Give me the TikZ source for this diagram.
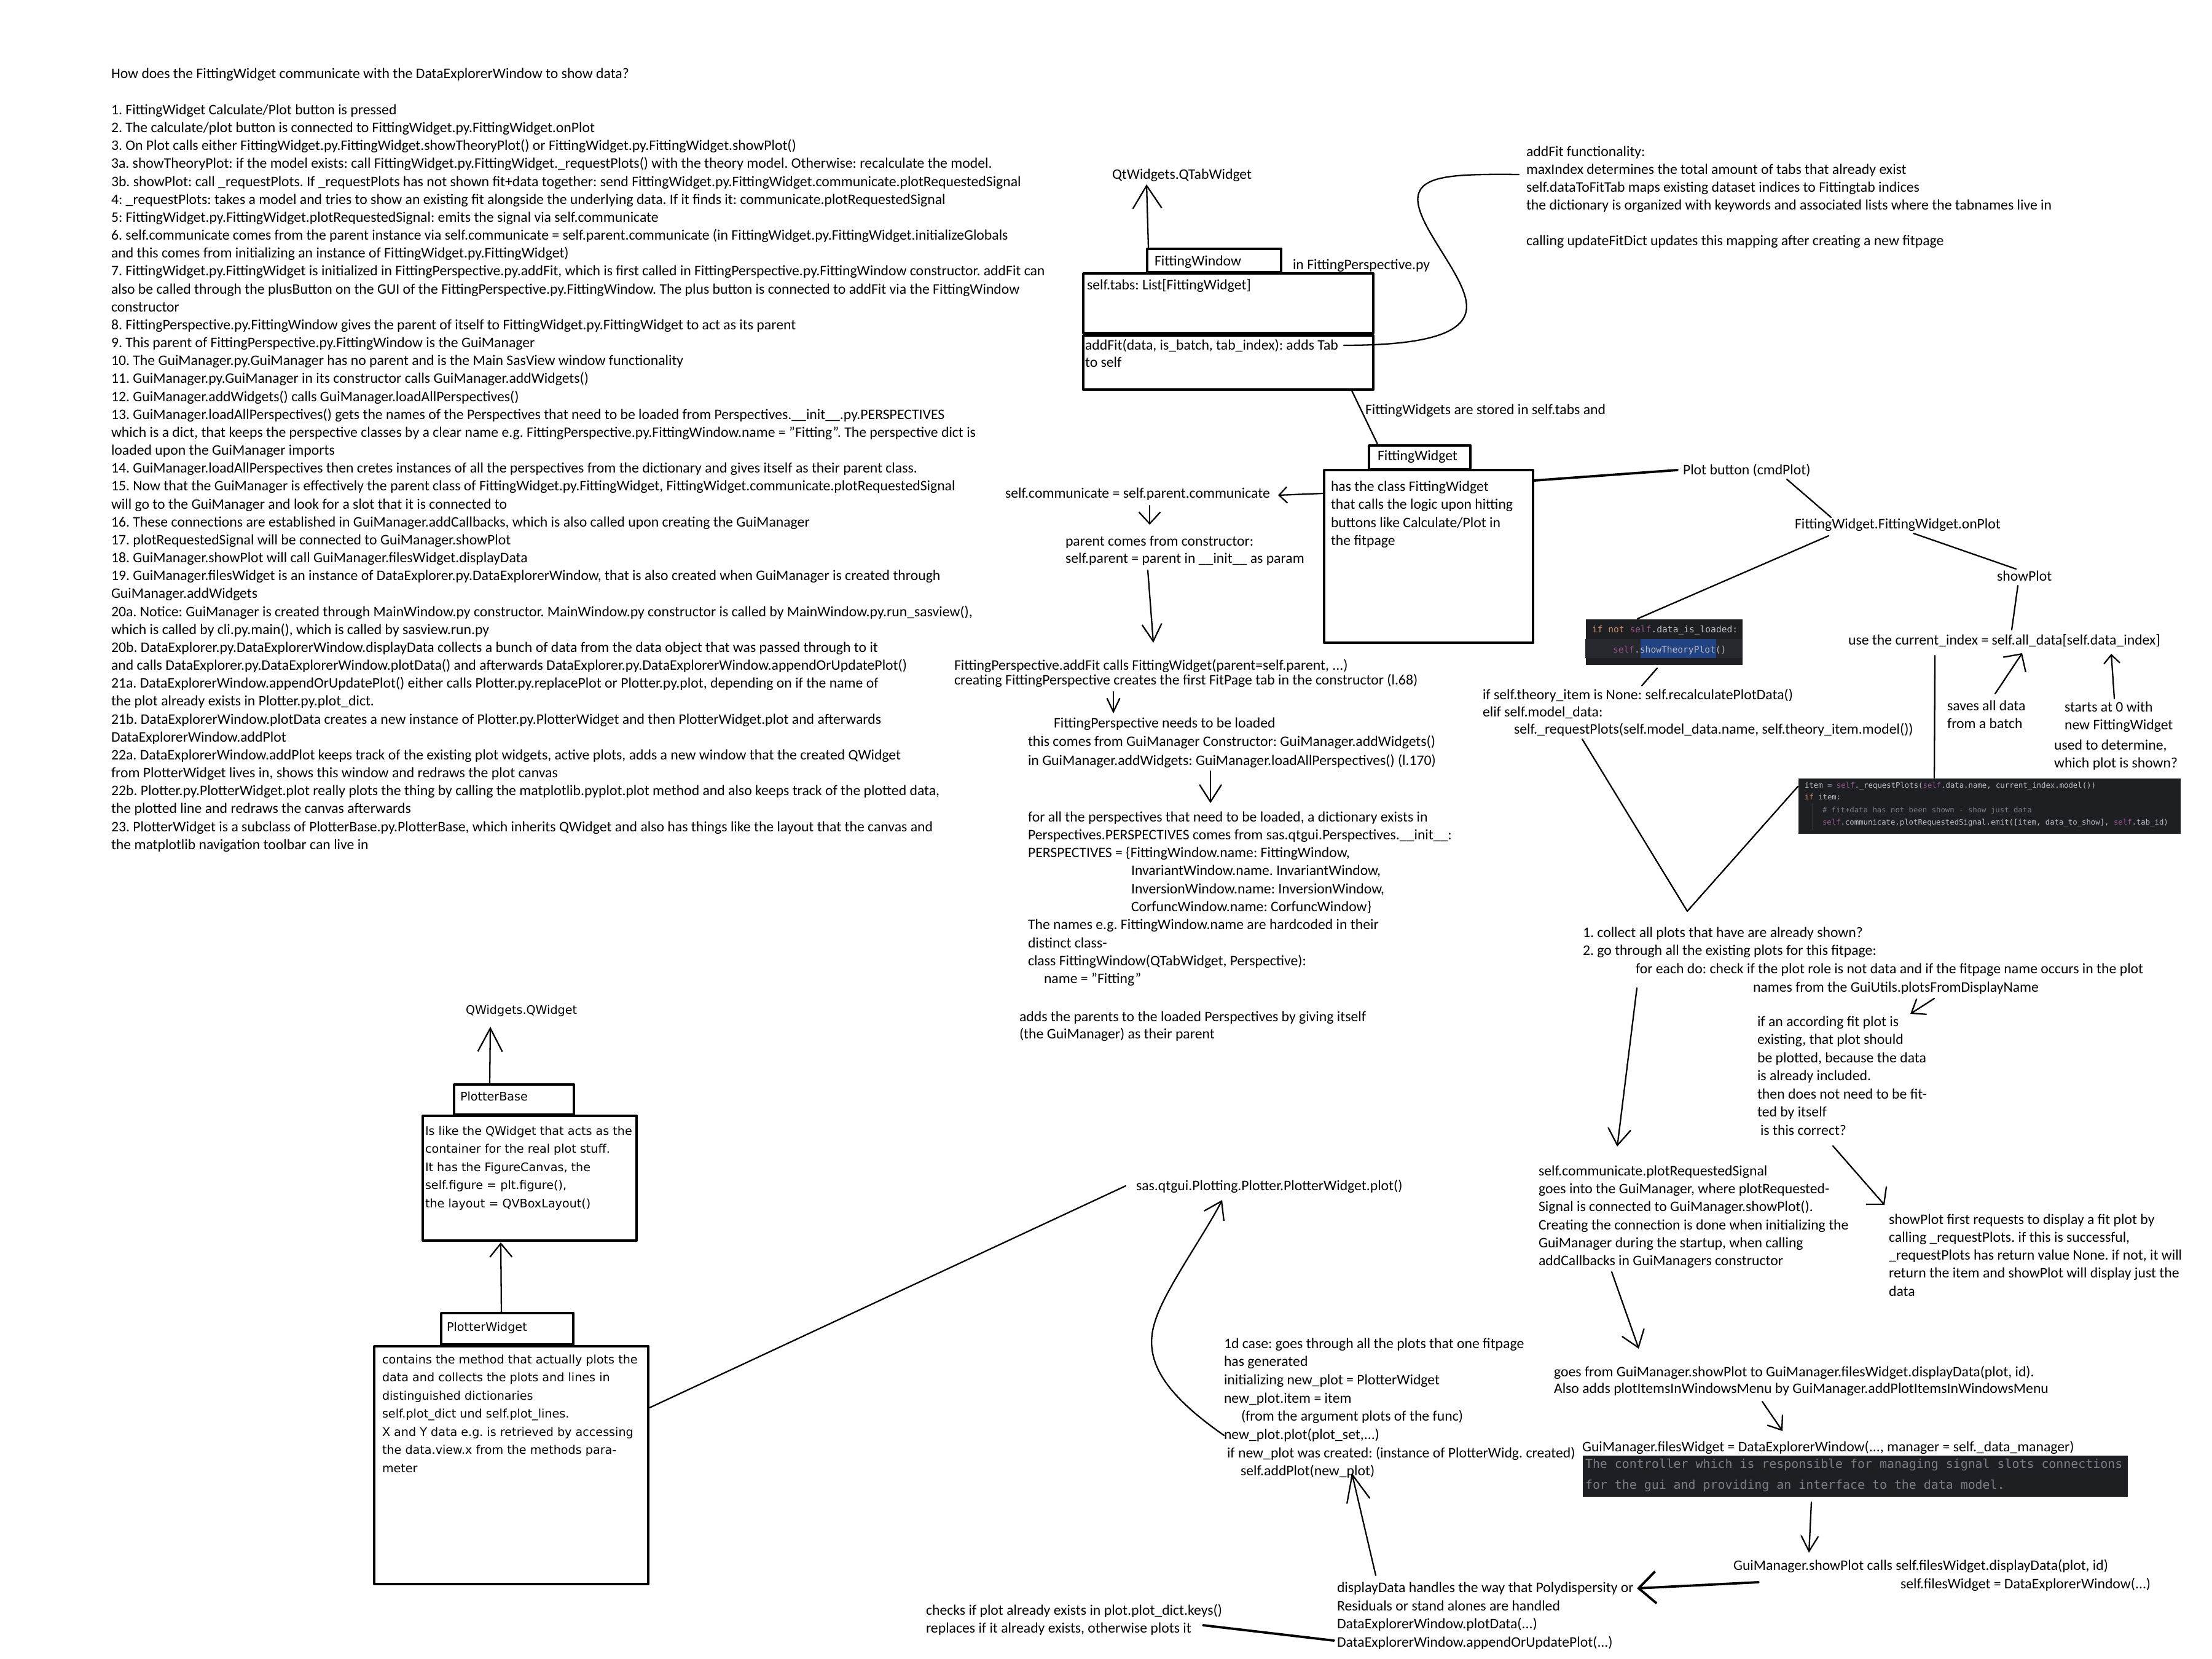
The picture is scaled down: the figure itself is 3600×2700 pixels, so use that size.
\documentclass[tikz,border=0pt]{standalone}
\usepackage{fontspec}
\setmainfont{Carlito}
\newfontfamily\verdfont{DejaVu Sans}
\newfontfamily\codefont{DejaVu Sans Mono}
\usetikzlibrary{arrows.meta}

\definecolor{codebg}{HTML}{1E1F22}
\definecolor{codeline}{HTML}{26282E}
\definecolor{kwc}{HTML}{CF8E6D}
\definecolor{selfc}{HTML}{94558D}
\definecolor{plainc}{HTML}{BCBEC4}
\definecolor{commc}{HTML}{7A7E85}
\definecolor{hlc}{HTML}{214283}

\newcommand\notefont{\fontsize{6.75}{8.3}\selectfont}
\newcommand\boxfont{\verdfont\fontsize{5.45}{8.4}\selectfont}
\newcommand\slf{\textcolor{selfc}{self}}
% lines of a note, baseline of the node = first line
\newcommand\txtlines[1]{\begin{tabular}[t]{@{}l@{}}#1\end{tabular}}

\tikzset{
  note/.style={anchor=base west, inner sep=0pt, outer sep=0pt, font=\notefont},
  lsk/.style={font=\fontsize{6.75}{#1}\selectfont},
  boxnote/.style={note, font=\boxfont},
  umlbox/.style={draw, line width=1.2pt, inner sep=0pt, anchor=north west},
  codebox/.style={fill=codebg, inner sep=0pt, anchor=north west},
  codeA/.style={note, text=plainc, font=\codefont\fontsize{4.15}{5}\selectfont},
  codeB/.style={note, text=plainc, font=\codefont\fontsize{3.5}{4.2}\selectfont},
  codeC/.style={note, text=commc, font=\codefont\fontsize{5.66}{7}\selectfont},
  cn/.style={line width=0.65pt},
  heavy/.style={line width=1.1pt},
  barb/.style 2 args={-{Straight Barb[length=#1mm, width=#2mm]}},
}

\begin{document}
\frenchspacing
\begin{tikzpicture}[x=0.1mm, y=-0.1mm, line cap=round, line join=round]

  % page, 3600 x 2700 px
  \fill[white] (0,0) rectangle (3600,2700);
  \useasboundingbox (0,0) rectangle (3600,2700);

  % Define connector ends (pixel coordinates)
  \coordinate (qtabtip) at (1866,300);
  \coordinate (addtab) at (2187,562);       % end of "adds Tab"
  \coordinate (addfitend) at (2472,284);
  \coordinate (commtip) at (2080,806);
  \coordinate (commdown) at (1871,823);
  \coordinate (ctortop) at (1871,854);
  \coordinate (ctorbot) at (1868,928);
  \coordinate (calltop) at (1877,1046);
  \coordinate (callbot) at (1812,1126);
  \coordinate (loadtop) at (1812,1161);
  \coordinate (loadbot) at (1970,1255);
  \coordinate (dicttop) at (1970,1307);
  \coordinate (plotbtnw) at (2730,765);
  \coordinate (plotbtns) at (2908,780);
  \coordinate (onplotn) at (2980,842);
  \coordinate (onplotsw) at (2976,872);
  \coordinate (onplotse) at (3114,868);
  \coordinate (showplotn) at (3281,926);
  \coordinate (showplots) at (3284,953);
  \coordinate (curindexn) at (3274,1025);
  \coordinate (theorycalln) at (2672,1116);
  \coordinate (theorycalls) at (2575,1203);
  \coordinate (vtip) at (2746,1483);        % bottom of the V
  \coordinate (curindexs) at (3149,1067);
  \coordinate (batchn) at (3247,1129);
  \coordinate (batchtip) at (3291,1063);
  \coordinate (zeron) at (3441,1137);
  \coordinate (zerotip) at (3436,1064);
  \coordinate (collects) at (2664,1608);
  \coordinate (signaltip) at (2632,1866);
  \coordinate (namesend) at (3148,1625);
  \coordinate (accfittip) at (3109,1650);
  \coordinate (accfits) at (2983,1865);
  \coordinate (showfirsttip) at (3067,1961);
  \coordinate (signals) at (2623,2070);
  \coordinate (goesfromtip) at (2667,2195);
  \coordinate (goesfroms) at (2868,2281);
  \coordinate (fileswtip) at (2901,2329);
  \coordinate (showcallstip) at (2944,2527);
  \coordinate (showcallsw) at (2862,2575);
  \coordinate (displaytip) at (2664,2585);
  \coordinate (displayn) at (2239,2564);
  \coordinate (addplottip) at (2200,2397);
  \coordinate (checksend) at (1958,2645);
  \coordinate (appendw) at (2171,2670);
  \coordinate (newplotw) at (1992,2336);
  \coordinate (plotfntip) at (1989,1953);
  \coordinate (plotfnw) at (1832,1930);
  \coordinate (qwidgettip) at (798,1671);
  \coordinate (pbtip) at (815,2022);

  % --- step list on the left ---
  \node[note] (intro) at (181,128) {\txtlines{How does the FittingWidget communicate with the DataExplorerWindow to show data?\\[8.3pt]
1. FittingWidget Calculate/Plot button is pressed\\
2. The calculate/plot button is connected to FittingWidget.py.FittingWidget.onPlot\\
3. On Plot calls either FittingWidget.py.FittingWidget.showTheoryPlot() or FittingWidget.py.FittingWidget.showPlot()\\
3a. showTheoryPlot: if the model exists: call FittingWidget.py.FittingWidget.\_requestPlots() with the theory model. Otherwise: recalculate the model.\\
3b. showPlot: call \_requestPlots. If \_requestPlots has not shown fit+data together: send FittingWidget.py.FittingWidget.communicate.plotRequestedSignal\\
4: \_requestPlots: takes a model and tries to show an existing fit alongside the underlying data. If it finds it: communicate.plotRequestedSignal\\
5: FittingWidget.py.FittingWidget.plotRequestedSignal: emits the signal via self.communicate\\
6. self.communicate comes from the parent instance via self.communicate = self.parent.communicate (in FittingWidget.py.FittingWidget.initializeGlobals\\
and this comes from initializing an instance of FittingWidget.py.FittingWidget)\\
7. FittingWidget.py.FittingWidget is initialized in FittingPerspective.py.addFit, which is first called in FittingPerspective.py.FittingWindow constructor. addFit can\\
also be called through the plusButton on the GUI of the FittingPerspective.py.FittingWindow. The plus button is connected to addFit via the FittingWindow\\
constructor\\
8. FittingPerspective.py.FittingWindow gives the parent of itself to FittingWidget.py.FittingWidget to act as its parent\\
9. This parent of FittingPerspective.py.FittingWindow is the GuiManager\\
10. The GuiManager.py.GuiManager has no parent and is the Main SasView window functionality\\
11. GuiManager.py.GuiManager in its constructor calls GuiManager.addWidgets()\\
12. GuiManager.addWidgets() calls GuiManager.loadAllPerspectives()\\
13. GuiManager.loadAllPerspectives() gets the names of the Perspectives that need to be loaded from Perspectives.\_\_init\_\_.py.PERSPECTIVES\\
which is a dict, that keeps the perspective classes by a clear name e.g. FittingPerspective.py.FittingWindow.name = "Fitting". The perspective dict is\\
loaded upon the GuiManager imports\\
14. GuiManager.loadAllPerspectives then cretes instances of all the perspectives from the dictionary and gives itself as their parent class.\\
15. Now that the GuiManager is effectively the parent class of FittingWidget.py.FittingWidget, FittingWidget.communicate.plotRequestedSignal\\
will go to the GuiManager and look for a slot that it is connected to\\
16. These connections are established in GuiManager.addCallbacks, which is also called upon creating the GuiManager\\
17. plotRequestedSignal will be connected to GuiManager.showPlot\\
18. GuiManager.showPlot will call GuiManager.filesWidget.displayData\\
19. GuiManager.filesWidget is an instance of DataExplorer.py.DataExplorerWindow, that is also created when GuiManager is created through\\
GuiManager.addWidgets\\
20a. Notice: GuiManager is created through MainWindow.py constructor. MainWindow.py constructor is called by MainWindow.py.run\_sasview(),\\
which is called by cli.py.main(), which is called by sasview.run.py\\
20b. DataExplorer.py.DataExplorerWindow.displayData collects a bunch of data from the data object that was passed through to it\\
and calls DataExplorer.py.DataExplorerWindow.plotData() and afterwards DataExplorer.py.DataExplorerWindow.appendOrUpdatePlot()\\
21a. DataExplorerWindow.appendOrUpdatePlot() either calls Plotter.py.replacePlot or Plotter.py.plot, depending on if the name of\\
the plot already exists in Plotter.py.plot\_dict.\\
21b. DataExplorerWindow.plotData creates a new instance of Plotter.py.PlotterWidget and then PlotterWidget.plot and afterwards\\
DataExplorerWindow.addPlot\\
22a. DataExplorerWindow.addPlot keeps track of the existing plot widgets, active plots, adds a new window that the created QWidget\\
from PlotterWidget lives in, shows this window and redraws the plot canvas\\
22b. Plotter.py.PlotterWidget.plot really plots the thing by calling the matplotlib.pyplot.plot method and also keeps track of the plotted data,\\
the plotted line and redraws the canvas afterwards\\
23. PlotterWidget is a subclass of PlotterBase.py.PlotterBase, which inherits QWidget and also has things like the layout that the canvas and\\
the matplotlib navigation toolbar can live in}};

  % --- FittingWindow class ---
  \node[note] (qtab) at (1810,292) {QtWidgets.QTabWidget};
  \node[umlbox, minimum width=21.8mm, minimum height=3.8mm] (fwhead) at (1865,403) {};
  \node[note] (fwname) at (1879,433) {FittingWindow};
  \node[note] (fwfile) at (2104,439) {in FittingPerspective.py};
  \node[umlbox, minimum width=47.2mm, minimum height=9.7mm] (fwtop) at (1761,443) {};
  \node[umlbox, minimum width=47.2mm, minimum height=8.8mm] (fwbot) at (1761,544) {};
  \node[note] (fwtabs) at (1769,472) {self.tabs: List[FittingWidget]};
  \node[note, lsk=7.7] (fwaddfit) at (1766,570) {\txtlines{addFit(data, is\_batch, tab\_index): adds Tab\\to self}};
  \node[note] (stored) at (2222,674) {FittingWidgets are stored in self.tabs and};
  \node[note, lsk=8.25] (addfitinfo) at (2484,255) {\txtlines{addFit functionality:\\
maxIndex determines the total amount of tabs that already exist\\
self.dataToFitTab maps existing dataset indices to Fittingtab indices\\
the dictionary is organized with keywords and associated lists where the tabnames live in\\[8.25pt]
calling updateFitDict updates this mapping after creating a new fitpage}};

  \draw[cn, barb={3.7}{4.7}] ([shift={(4,0)}]fwhead.north west) -- (qtabtip);
  \draw[cn] (addtab) .. controls (2330,562) and (2395,540) .. (2386,490)
    .. controls (2378,440) and (2300,360) .. (2308,318)
    .. controls (2315,285) and (2370,283) .. (addfitend);

  % --- FittingWidget class ---
  \node[umlbox, minimum width=16.5mm, minimum height=3.9mm] (fithead) at (2226,723) {};
  \node[note] (fitname) at (2242,750) {FittingWidget};
  \node[umlbox, minimum width=34mm, minimum height=28.1mm] (fitbox) at (2153,763) {};
  \node[note, lsk=8.4] (fitdesc) at (2166,799) {\txtlines{has the class FittingWidget\\that calls the logic upon hitting\\buttons like Calculate/Plot in\\the fitpage}};
  \draw[cn] ([shift={(-37,0)}]fwbot.south east) -- ([shift={(16,0)}]fithead.north west);

  % --- parent chain ---
  \node[note] (selfcomm) at (1636,810) {self.communicate = self.parent.communicate};
  \node[note, lsk=8.25] (parentctor) at (1734,888) {\txtlines{parent comes from constructor:\\self.parent = parent in \_\_init\_\_ as param}};
  \node[note, lsk=6.55] (addfitcall) at (1553,1090) {\txtlines{FittingPerspective.addFit calls FittingWidget(parent=self.parent, ...)\\creating FittingPerspective creates the first FitPage tab in the constructor (l.68)}};
  \node[note, lsk=8.7] (needsload) at (1673,1184) {\txtlines{\hspace*{4.2mm}FittingPerspective needs to be loaded\\this comes from GuiManager Constructor: GuiManager.addWidgets()\\in GuiManager.addWidgets: GuiManager.loadAllPerspectives() (l.170)}};
  \node[note, lsk=8.34] (perspdict) at (1673,1337) {\txtlines{for all the perspectives that need to be loaded, a dictionary exists in\\
Perspectives.PERSPECTIVES comes from sas.qtgui.Perspectives.\_\_init\_\_:\\
PERSPECTIVES = \{FittingWindow.name: FittingWindow,\\
\hspace*{16.8mm}InvariantWindow.name. InvariantWindow,\\
\hspace*{16.8mm}InversionWindow.name: InversionWindow,\\
\hspace*{16.8mm}CorfuncWindow.name: CorfuncWindow\}\\
The names e.g. FittingWindow.name are hardcoded in their\\
distinct class-\\
class FittingWindow(QTabWidget, Perspective):\\
\hspace*{2.6mm}name = "Fitting"}};
  \node[note, lsk=8] (addparents) at (1659,1662) {\txtlines{adds the parents to the loaded Perspectives by giving itself\\(the GuiManager) as their parent}};

  \draw[cn, barb={1.3}{2.6}] ([shift={(0,40)}]fitbox.north west) -- (commtip);
  \draw[cn, barb={1.9}{3.5}] (commdown) -- (ctortop);
  \draw[cn, barb={2.8}{3.2}] (ctorbot) -- (calltop);
  \draw[cn, barb={2.2}{2.1}] (callbot) -- (loadtop);
  \draw[cn, barb={2.8}{3.6}] (loadbot) -- (dicttop);

  % --- onPlot branches ---
  \node[note] (plotbtn) at (2739,772) {Plot button (cmdPlot)};
  \node[note] (onplot) at (2921,860) {FittingWidget.FittingWidget.onPlot};
  \node[note] (showplot) at (3250,945) {showPlot};
  \node[note] (curindex) at (3008,1049) {use the current\_index = self.all\_data[self.data\_index]};

  % code snippet: showTheoryPlot
  \node[codebox, minimum width=25.5mm, minimum height=7.4mm] (theorycode) at (2580,1007) {};
  \fill[codeline] (2580,1040) rectangle (2835,1071);
  \fill[hlc] (2670,1040) rectangle (2793,1071);
  \node[codeA] (theoryA) at (2591,1029) {\textcolor{kwc}{if not} \slf.data\_is\_loaded:};
  \node[codeA] (theoryB) at (2625,1062) {\slf.showTheoryPlot()};

  \node[note, lsk=7.97] (theorycall) at (2413,1138) {\txtlines{if self.theory\_item is None: self.recalculatePlotData()\\elif self.model\_data:\\\hspace*{5.1mm}self.\_requestPlots(self.model\_data.name, self.theory\_item.model())}};
  \node[note, lsk=8.25] (batch) at (3169,1156) {\txtlines{saves all data\\from a batch}};
  \node[note, lsk=8.5] (startzero) at (3360,1158) {\txtlines{starts at 0 with\\new FittingWidget}};
  \node[note, lsk=8.25] (determine) at (3343,1220) {\txtlines{used to determine,\\which plot is shown?}};

  % code snippet: _requestPlots
  \node[codebox, minimum width=62.2mm, minimum height=9mm] (requestcode) at (2926,1266) {};
  \draw[commc!60!codebg, line width=0.3pt] (2950,1308) -- (2950,1350);
  \node[codeB] (reqA) at (2937,1282) {item = \slf.\_requestPlots(\slf.data.name, current\_index.model())};
  \node[codeB] (reqB) at (2937,1301) {\textcolor{kwc}{if} item:};
  \node[codeB, text=commc] (reqC) at (2966,1322) {\# fit+data has not been shown - show just data};
  \node[codeB] (reqD) at (2966,1342) {\slf.communicate.plotRequestedSignal.emit([item, data\_to\_show], \slf.tab\_id)};

  \draw[heavy] ([shift={(0,19)}]fitbox.north east) -- (plotbtnw);
  \draw[cn] (plotbtns) -- (onplotn);
  \draw[cn] (onplotsw) -- ([shift={(85,0)}]theorycode.north west);
  \draw[cn] (onplotse) -- (showplotn);
  \draw[cn] (showplots) -- (curindexn);
  \draw[cn] ([shift={(117,5)}]theorycode.south west) -- (theorycalln);
  \draw[cn] (theorycalls) -- (vtip) -- ([shift={(0,14)}]requestcode.north west);
  \draw[cn] (curindexs) -- ([shift={(222,0)}]requestcode.north west);
  \draw[cn, barb={2.1}{4.4}] (batchn) -- (batchtip);
  \draw[cn, barb={1.4}{2.6}] (zeron) -- (zerotip);

  % --- plots of the fitpage ---
  \node[note, lsk=8.45] (collect) at (2576,1525) {\txtlines{1. collect all plots that have are already shown?\\
2. go through all the existing plots for this fitpage:\\
\hspace*{8.6mm}for each do: check if the plot role is not data and if the fitpage name occurs in the plot\\
\hspace*{27.7mm}names from the GuiUtils.plotsFromDisplayName}};
  \node[note, lsk=8.4] (accfit) at (2860,1670) {\txtlines{if an according fit plot is\\
existing, that plot should\\
be plotted, because the data\\
is already included.\\
then does not need to be fit-\\
ted by itself\\
\hspace*{0.5mm}is this correct?}};
  \node[note, lsk=8.36] (signal) at (2504,1913) {\txtlines{self.communicate.plotRequestedSignal\\
goes into the GuiManager, where plotRequested-\\
Signal is connected to GuiManager.showPlot().\\
Creating the connection is done when initializing the\\
GuiManager during the startup, when calling\\
addCallbacks in GuiManagers constructor}};
  \node[note, lsk=8.33] (showfirst) at (3074,1992) {\txtlines{showPlot first requests to display a fit plot by\\
calling \_requestPlots. if this is successful,\\
\_requestPlots has return value None. if not, it will\\
return the item and showPlot will display just the\\
data}};

  \draw[cn, barb={2.7}{3.7}] (collects) -- (signaltip);
  \draw[cn, barb={2.0}{3.0}] (namesend) -- (accfittip);
  \draw[cn, barb={1.9}{4.4}] (accfits) -- (showfirsttip);

  % --- GuiManager and DataExplorerWindow ---
  \node[note, lsk=7.7] (goesfrom) at (2529,2240) {\txtlines{goes from GuiManager.showPlot to GuiManager.filesWidget.displayData(plot, id).\\Also adds plotItemsInWindowsMenu by GuiManager.addPlotItemsInWindowsMenu}};
  \node[note] (fileswidget) at (2575,2362) {GuiManager.filesWidget = DataExplorerWindow(..., manager = self.\_data\_manager)};
  \node[codebox, minimum width=88.7mm, minimum height=6.7mm] (ctrlcode) at (2575,2368) {};
  \node[codeC] (ctrlA) at (2580,2389) {The controller which is responsible for managing signal slots connections};
  \node[codeC] (ctrlB) at (2580,2423) {for the gui and providing an interface to the data model.};
  \node[note] (showcalls) at (2821,2555) {GuiManager.showPlot calls self.filesWidget.displayData(plot, id)};
  \node[note] (fileswin) at (3093,2585) {self.filesWidget = DataExplorerWindow(...)};

  \draw[cn, barb={2.6}{3.8}] (signals) -- (goesfromtip);
  \draw[cn, barb={2.0}{3.0}] (goesfroms) -- (fileswtip);
  \draw[cn, barb={2.5}{2.8}] ([shift={(373,8)}]ctrlcode.south west) -- (showcallstip);
  \draw[heavy, barb={2.8}{5.2}] (showcallsw) -- (displaytip);

  % --- displayData and plotting ---
  \node[note, lsk=8.45] (onedcase) at (1992,2194) {\txtlines{1d case: goes through all the plots that one fitpage\\
has generated\\
initializing new\_plot = PlotterWidget\\
new\_plot.item = item\\
\hspace*{2.8mm}(from the argument plots of the func)\\
new\_plot.plot(plot\_set,...)\\
\hspace*{0.5mm}if new\_plot was created: (instance of PlotterWidg. created)\\
\hspace*{2.7mm}self.addPlot(new\_plot)}};
  \node[note, lsk=8.53] (displaydata) at (2176,2591) {\txtlines{displayData handles the way that Polydispersity or\\
Residuals or stand alones are handled\\
DataExplorerWindow.plotData(...)\\
DataExplorerWindow.appendOrUpdatePlot(...)}};
  \node[note, lsk=8.25] (checks) at (1507,2628) {\txtlines{checks if plot already exists in plot.plot\_dict.keys()\\replaces if it already exists, otherwise plots it}};
  \node[note] (plotfn) at (1849,1937) {sas.qtgui.Plotting.Plotter.PlotterWidget.plot()};

  \draw[cn, barb={4.4}{3.8}] (displayn) -- (addplottip);
  \draw[heavy] (checksend) -- (appendw);
  \draw[cn, barb={2.7}{3.6}] (newplotw) .. controls (1890,2265) and (1860,2210) .. (1880,2150)
    .. controls (1895,2100) and (1960,2010) .. (plotfntip);

  % --- PlotterBase / PlotterWidget classes ---
  \node[boxnote] (qwidget) at (758,1650) {QWidgets.QWidget};
  \node[umlbox, minimum width=19.5mm, minimum height=4.9mm] (pbhead) at (737,1763) {};
  \node[boxnote] (pbname) at (749,1791) {PlotterBase};
  \node[umlbox, minimum width=34.8mm, minimum height=20.3mm] (pbbox) at (686,1814) {};
  \node[boxnote] (pbdesc) at (692,1847) {\txtlines{Is like the QWidget that acts as the\\
container for the real plot stuff.\\
It has the FigureCanvas, the\\
self.figure = plt.figure(),\\
the layout = QVBoxLayout()}};
  \node[umlbox, minimum width=21.5mm, minimum height=5.1mm] (pwhead) at (716,2135) {};
  \node[boxnote] (pwname) at (727,2166) {PlotterWidget};
  \node[umlbox, minimum width=44.6mm, minimum height=38.7mm] (pwbox) at (607,2189) {};
  \node[boxnote] (pwdesc) at (622,2219) {\txtlines{contains the method that actually plots the\\
data and collects the plots and lines in\\
distinguished dictionaries\\
self.plot\_dict und self.plot\_lines.\\
X and Y data e.g. is retrieved by accessing\\
the data.view.x from the methods para-\\
meter}};

  \draw[cn, barb={3.8}{4.0}] ([shift={(60,0)}]pbhead.north west) -- (qwidgettip);
  \draw[cn, barb={2.2}{3.6}] ([shift={(100,0)}]pwhead.north west) -- (pbtip);
  \draw[cn] ([shift={(0,102)}]pwbox.north east) -- (plotfnw);

\end{tikzpicture}
\end{document}
